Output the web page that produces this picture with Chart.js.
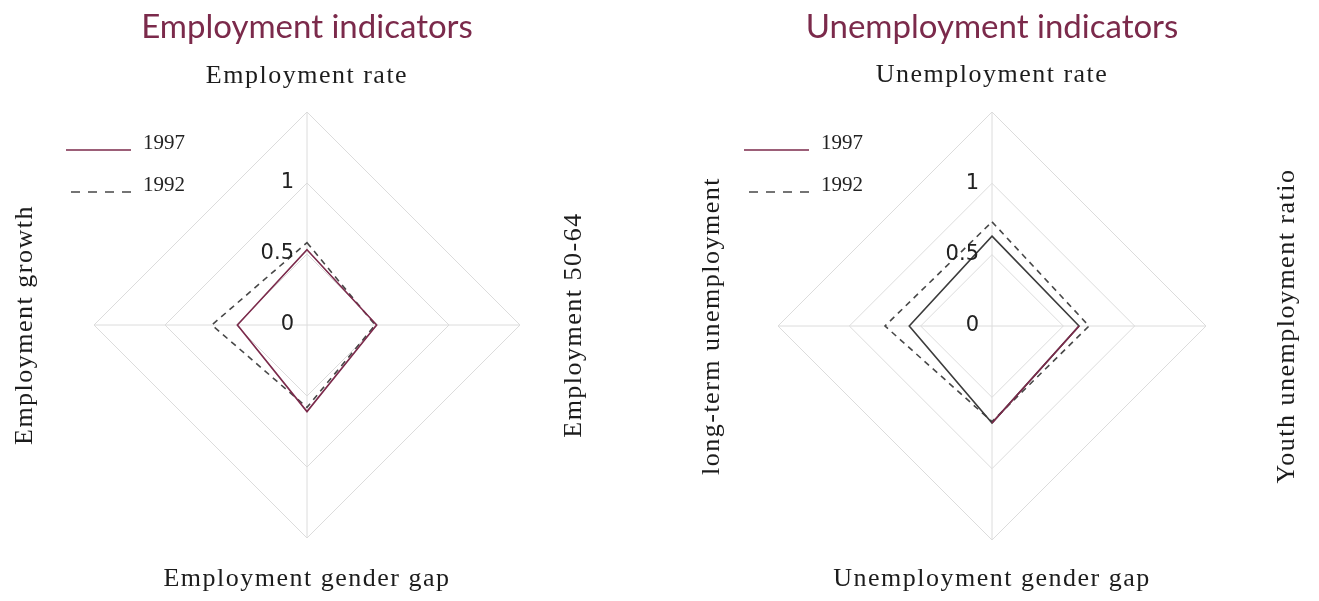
<!DOCTYPE html>
<html>
<head>
<meta charset="utf-8">
<title>Employment and unemployment indicators</title>
<script src="https://cdn.jsdelivr.net/npm/chart.js@4.4.1/dist/chart.umd.min.js"></script>
<style>
  html, body { margin: 0; padding: 0; background: #fff; }
  #wrap { position: relative; width: 1319px; height: 601px; }
  canvas { position: absolute; top: 0; }
  #empChart { left: 0; }
  #unempChart { left: 660px; }
</style>
</head>
<body>
<div id="wrap">
  <canvas id="empChart" width="660" height="601"></canvas>
  <canvas id="unempChart" width="659" height="601"></canvas>
</div>
<script>
// values (order: top, right, bottom, left)
const empAxes = ['Employment rate', 'Employment 50-64', 'Employment gender gap', 'Employment growth'];
const emp1997 = [0.53, 0.49, 0.61, 0.49];
const emp1992 = [0.58, 0.48, 0.58, 0.67];

const unempAxes = ['Unemployment rate', 'Youth unemployment ratio', 'Unemployment gender gap', 'long-term unemployment'];
const unemp1997 = [0.63, 0.61, 0.68, 0.58];
const unemp1992 = [0.73, 0.68, 0.67, 0.75];

const years = ['1997', '1992'];
const tickValues = [0, 0.5, 1];
const tickLabels = ['0', '0.5', '1'];

const MAROON = '#7b2a4b';
const DARK = '#474747';
const GRID = '#dcdcdc';
const SERIF = '"Liberation Serif", "DejaVu Serif", serif';

// tick numbers left of the axis, rotated side labels and the small legend
const decorPlugin = {
  id: 'decor',
  afterDatasetsDraw(chart, args, opts) {
    const ctx = chart.ctx;
    const r = chart.scales.r;
    ctx.save();

    // in the right chart the lower right edge of the 1997 line is maroon
    if (opts.maroonEdge) {
      const pts = chart.getDatasetMeta(0).data;
      const a = pts[opts.maroonEdge[0]], b = pts[opts.maroonEdge[1]];
      ctx.beginPath();
      ctx.strokeStyle = MAROON;
      ctx.lineWidth = 1.8;
      ctx.moveTo(a.x, a.y);
      ctx.lineTo(b.x, b.y);
      ctx.stroke();
    }

    ctx.font = '21px "DejaVu Sans", sans-serif';
    ctx.fillStyle = '#222';
    ctx.textAlign = 'right';
    ctx.textBaseline = 'middle';
    tickValues.forEach((v, i) => {
      const d = r.getDistanceFromCenterForValue(v);
      ctx.fillText(tickLabels[i], r.xCenter - opts.tickGap, r.yCenter - d);
    });

    ctx.font = '26px ' + SERIF;
    ctx.fillStyle = '#1c1c1c';
    ctx.textAlign = 'center';
    ctx.letterSpacing = '1.5px';
    chart.data.labels.forEach((label, i) => {
      const p = r.getPointPosition(i, opts.labelDist[i]);
      ctx.save();
      ctx.translate(p.x, p.y);
      if (i % 2 === 1) ctx.rotate(-Math.PI / 2);
      ctx.fillText(label, 0, 0);
      ctx.restore();
    });
    ctx.letterSpacing = '0px';

    ctx.font = '21px ' + SERIF;
    ctx.textAlign = 'left';
    chart.data.datasets.forEach((ds, i) => {
      const y = opts.legendY + i * 42;
      ctx.beginPath();
      ctx.strokeStyle = ds.legendColor || ds.borderColor;
      ctx.lineWidth = ds.borderWidth;
      ctx.setLineDash(ds.legendDash || []);
      ctx.lineDashOffset = ds.legendDash ? 12 : 0;
      ctx.moveTo(opts.legendX, y);
      ctx.lineTo(opts.legendX + 65, y);
      ctx.stroke();
      ctx.setLineDash([]);
      ctx.fillStyle = '#222';
      ctx.fillText(ds.label, opts.legendX + 77, y - 7);
    });
    ctx.restore();
  }
};

function makeRadar(id, title, axes, v1997, v1992, extra) {
  return new Chart(document.getElementById(id), {
    type: 'radar',
    data: {
      labels: axes,
      datasets: [{
        label: years[0],
        data: v1997,
        borderColor: extra.solidColor,
        legendColor: MAROON,
        borderWidth: 1.6,
        fill: false,
        pointRadius: 0,
        tension: 0
      }, {
        label: years[1],
        data: v1992,
        borderColor: DARK,
        borderWidth: 1.6,
        borderDash: [6, 5],
        legendDash: [9, 8],
        fill: false,
        pointRadius: 0,
        tension: 0
      }]
    },
    options: {
      responsive: false,
      animation: false,
      layout: { padding: extra.padding },
      scales: {
        r: {
          min: 0,
          max: 1.5,
          ticks: { display: false, stepSize: 0.5 },
          grid: { color: GRID, lineWidth: 1 },
          angleLines: { color: GRID, lineWidth: 1 },
          pointLabels: { display: false }
        }
      },
      plugins: {
        legend: { display: false },
        tooltip: { enabled: false },
        title: {
          display: true,
          text: title,
          color: MAROON,
          font: { family: 'Lato', size: 33, weight: 'normal', lineHeight: 1.2 },
          padding: { top: 8, bottom: 64.4 }
        },
        decor: {
          tickGap: 13,
          labelDist: extra.labelDist,
          legendX: extra.legendX,
          legendY: 150,
          maroonEdge: extra.maroonEdge || null
        }
      }
    },
    plugins: [decorPlugin]
  });
}

makeRadar('empChart', 'Employment indicators', empAxes, emp1997, emp1992, {
  solidColor: MAROON,
  padding: { left: 94, right: 140, top: 0, bottom: 63 },
  labelDist: [249, 267, 254, 282],
  legendX: 66
});

makeRadar('unempChart', 'Unemployment indicators', unempAxes, unemp1997, unemp1992, {
  solidColor: '#3c3c3c',
  maroonEdge: [1, 2],
  padding: { left: 118, right: 113, top: 0, bottom: 61 },
  labelDist: [251, 295, 253, 280],
  legendX: 84
});
</script>
</body>
</html>
